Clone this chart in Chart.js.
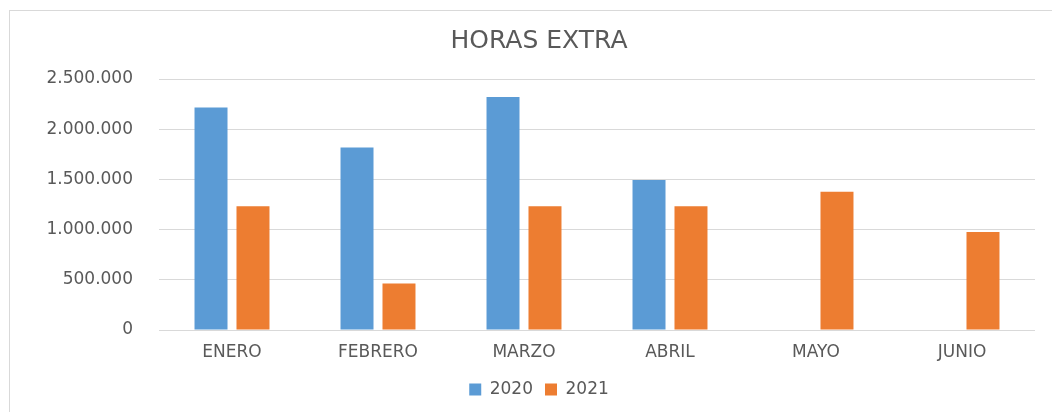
<!DOCTYPE html>
<html>
<head>
<meta charset="utf-8">
<script src="https://cdn.jsdelivr.net/npm/chart.js@4.4.0/dist/chart.umd.min.js"></script>
<style>
    body { margin: 0; background: #ffffff; }
    #wrap { position: relative; width: 1052px; height: 412px; overflow: hidden; }
    #frame { position: absolute; left: 9px; top: 10px; width: 1100px; height: 420px; border-left: 1px solid #d9d9d9; border-top: 1px solid #d9d9d9; }
    #chart { position: absolute; left: 0; top: 0; }
</style>
</head>
<body>
<div id="wrap">
    <div id="frame"></div>
    <canvas id="chart" width="1052" height="412"></canvas>
</div>
<script>
// datos
const meses = ['ENERO', 'FEBRERO', 'MARZO', 'ABRIL', 'MAYO', 'JUNIO'];
const horas2020 = [2216000, 1818000, 2320000, 1494000, null, null];
const horas2021 = [1233000, 464000, 1233000, 1233000, 1377000, 976000];
const ticksY = [0, 500000, 1000000, 1500000, 2000000, 2500000];

const textColor = '#595959';
const fontFam = "'DejaVu Sans', Verdana, sans-serif";

function formatMiles(v) {
    // separador de miles con punto
    return String(v).replace(/\B(?=(\d{3})+(?!\d))/g, '.');
}

const data = {
    labels: meses,
    datasets: [
        {
            label: '2020',
            data: horas2020,
            backgroundColor: '#5B9BD5',
            categoryPercentage: 0.575,
            barPercentage: 0.786
        },
        {
            label: '2021',
            data: horas2021,
            backgroundColor: '#ED7D31',
            categoryPercentage: 0.575,
            barPercentage: 0.786
        }
    ]
};

const options = {
    responsive: false,
    animation: false,
    layout: {
        padding: { left: 43, right: 17, top: 20, bottom: 4 }
    },
    scales: {
        x: {
            afterFit: function (scale) { scale.height = 39; },
            grid: { display: false, drawTicks: false },
            border: { display: false },
            ticks: {
                color: textColor,
                font: { family: fontFam, size: 17 },
                padding: 12,
                maxRotation: 0
            }
        },
        y: {
            min: 0,
            max: 2500000,
            afterFit: function (scale) { scale.width = 116; },
            afterBuildTicks: function (scale) {
                scale.ticks = ticksY.map(function (v) { return { value: v }; });
            },
            grid: { color: '#d9d9d9', lineWidth: 1, drawTicks: false },
            border: { display: false },
            ticks: {
                color: textColor,
                font: { family: fontFam, size: 17 },
                padding: 26,
                callback: function (value) { return formatMiles(value); }
            }
        }
    },
    plugins: {
        title: {
            display: true,
            text: 'HORAS EXTRA',
            color: textColor,
            font: { family: fontFam, size: 25, weight: 'normal' },
            padding: { top: 6, bottom: 23 }
        },
        legend: {
            position: 'bottom',
            labels: {
                color: textColor,
                font: { family: fontFam, size: 17 },
                boxWidth: 12,
                boxHeight: 12,
                padding: 12
            }
        },
        tooltip: { enabled: false }
    }
};

const ctx = document.getElementById('chart').getContext('2d');
const chart = new Chart(ctx, {
    type: 'bar',
    data: data,
    options: options
});
</script>
</body>
</html>
